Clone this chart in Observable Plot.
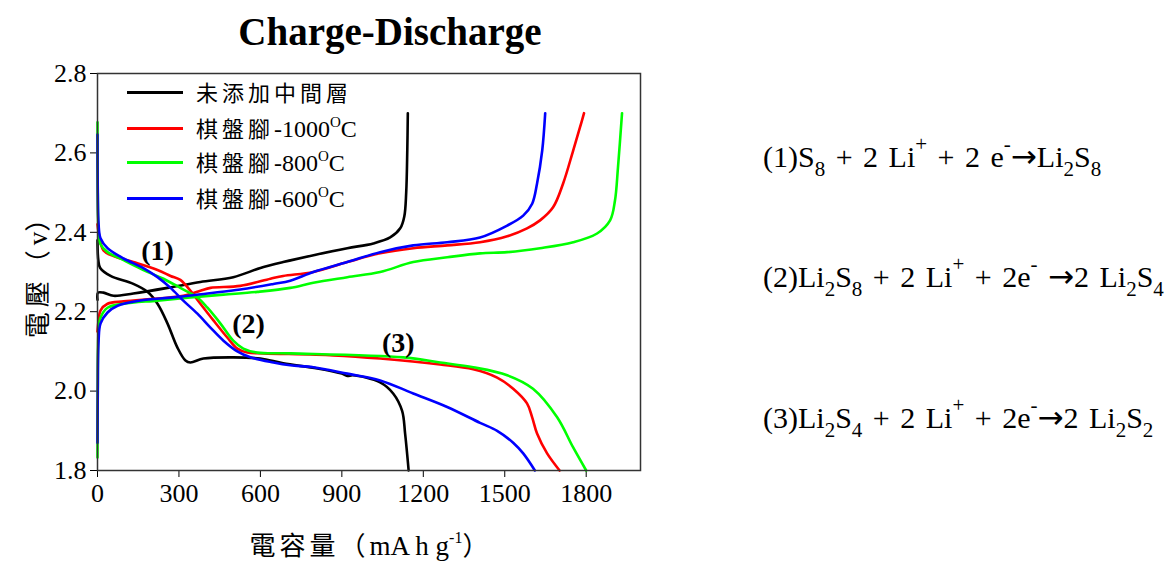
<!DOCTYPE html>
<html>
<head>
<meta charset="utf-8">
<script src="https://cdn.jsdelivr.net/npm/d3@7"></script>
<script src="https://cdn.jsdelivr.net/npm/@observablehq/plot@0.6"></script>
<style>
  html, body { margin: 0; padding: 0; background: #fff; }
  #wrap { position: relative; width: 1172px; height: 561px; overflow: hidden; font-family: "Liberation Serif", "Noto Sans CJK TC", serif; }
  #chart { position: absolute; left: 0; top: 0; }
  #title { position: absolute; left: 140px; width: 500px; top: 12px; text-align: center; font: bold 39px "Liberation Serif", serif; line-height: 1; color: #000; }
  .leg { position: absolute; left: 127px; height: 30px; display: flex; align-items: center; white-space: nowrap; }
  .leg .sw { width: 56px; height: 3px; margin-right: 13px; }
  .leg .txt { font-size: 24px; color: #000; line-height: 1; }
  .cjk { font-family: "Noto Sans CJK TC", sans-serif; font-size: 22px; letter-spacing: 4px; }
  .leg sup { font-size: 15px; vertical-align: 10px; line-height: 0; }
  .eq { position: absolute; left: 763px; font: 30px "Liberation Serif", serif; white-space: pre; line-height: 1; color: #000; word-spacing: 3px; }
  .eq sub { font-size: 21px; vertical-align: -9px; line-height: 0; }
  .eq sup { font-size: 21px; vertical-align: 16px; line-height: 0; }
  .eq .ar { font-family: "DejaVu Sans", sans-serif; font-size: 31px; }
</style>
</head>
<body>
<div id="wrap">
  <div id="chart"></div>
  <div id="title">Charge-Discharge</div>
  <div id="legend"></div>
  <div class="eq" style="top:141px">(1)S<sub>8</sub> + 2 Li<sup>+</sup> + 2 e<sup>-</sup><span class="ar">→</span>Li<sub>2</sub>S<sub>8</sub></div>
  <div class="eq" style="top:261px">(2)Li<sub>2</sub>S<sub>8</sub> + 2 Li<sup>+</sup> + 2e<sup>-</sup> <span class="ar">→</span>2 Li<sub>2</sub>S<sub>4</sub></div>
  <div class="eq" style="top:402px">(3)Li<sub>2</sub>S<sub>4</sub> + 2 Li<sup>+</sup> + 2e<sup>-</sup><span class="ar">→</span>2 Li<sub>2</sub>S<sub>2</sub></div>
</div>
<script>
// ---------- data (capacity mAh/g, voltage V) ----------
const seriesNames = ["未添加中間層", "棋盤腳-1000°C", "棋盤腳-800°C", "棋盤腳-600°C"];
const seriesColors = ["#000000", "#ff0000", "#00ff00", "#0000ff"];
const legendCjk = ["未添加中間層", "棋盤腳", "棋盤腳", "棋盤腳"];
const legendTemp = ["", "-1000", "-800", "-600"];

const xTicks = [0, 300, 600, 900, 1200, 1500, 1800];
const yTicks = [1.8, 2.0, 2.2, 2.4, 2.6, 2.8];

const blackDischarge = [[0,2.38],[3,2.33],[10,2.31],[48,2.29],[132,2.27],[184,2.25],[221,2.22],[258,2.17],[294,2.11],[324,2.077],[342,2.072],[390,2.082],[500,2.085],[600,2.082],[684,2.07],[810,2.057],[900,2.044],[920,2.038],[940,2.04],[1041,2.022],[1089,1.994],[1122,1.95],[1133,1.893],[1146,1.80]];
const blackCharge = [[0,2.23],[2,2.248],[22,2.248],[59,2.24],[132,2.246],[258,2.26],[379,2.275],[500,2.287],[600,2.31],[684,2.325],[800,2.343],[920,2.36],[1016,2.372],[1078,2.387],[1115,2.41],[1130,2.44],[1137,2.50],[1141,2.606],[1143,2.70]];
const redDischarge = [[0,2.42],[4,2.40],[22,2.354],[59,2.34],[132,2.325],[221,2.305],[269,2.29],[305,2.28],[342,2.253],[379,2.22],[427,2.178],[478,2.135],[515,2.107],[552,2.097],[611,2.095],[868,2.09],[1041,2.082],[1262,2.067],[1384,2.055],[1472,2.034],[1531,2.006],[1582,1.969],[1601,1.934],[1619,1.893],[1656,1.843],[1702,1.80]];
const redCharge = [[0,2.15],[4,2.178],[11,2.203],[37,2.22],[96,2.226],[221,2.233],[316,2.24],[379,2.253],[416,2.26],[526,2.265],[637,2.283],[684,2.29],[795,2.30],[920,2.325],[1041,2.347],[1163,2.36],[1288,2.367],[1409,2.375],[1509,2.39],[1582,2.41],[1630,2.43],[1678,2.463],[1715,2.523],[1752,2.606],[1777,2.664],[1792,2.70]];
const greenDischarge = [[0,2.677],[1,2.5],[4,2.405],[11,2.37],[37,2.35],[96,2.33],[169,2.305],[243,2.283],[305,2.26],[368,2.236],[405,2.21],[453,2.17],[500,2.127],[537,2.107],[589,2.097],[710,2.095],[1126,2.085],[1262,2.072],[1384,2.06],[1509,2.04],[1604,2.006],[1693,1.934],[1752,1.858],[1800,1.80]];
const greenCharge = [[0,1.833],[1,2.0],[4,2.152],[11,2.185],[37,2.21],[96,2.22],[221,2.228],[342,2.236],[464,2.243],[589,2.25],[710,2.26],[795,2.273],[920,2.287],[1041,2.30],[1163,2.325],[1288,2.337],[1409,2.347],[1509,2.35],[1630,2.36],[1752,2.375],[1840,2.397],[1888,2.43],[1906,2.48],[1917,2.563],[1932,2.70]];
const blueDischarge = [[0,2.646],[1,2.5],[4,2.42],[11,2.385],[37,2.36],[96,2.334],[169,2.31],[221,2.287],[269,2.26],[316,2.228],[368,2.195],[416,2.16],[464,2.127],[515,2.10],[563,2.085],[648,2.072],[710,2.065],[795,2.06],[920,2.044],[1041,2.027],[1163,1.994],[1288,1.96],[1409,1.92],[1472,1.90],[1531,1.87],[1568,1.843],[1611,1.80]];
const blueCharge = [[0,1.87],[1,2.0],[4,2.127],[11,2.17],[37,2.198],[74,2.215],[158,2.228],[280,2.236],[405,2.246],[526,2.256],[648,2.27],[710,2.278],[795,2.30],[920,2.325],[1041,2.35],[1163,2.367],[1288,2.375],[1409,2.387],[1509,2.417],[1568,2.442],[1601,2.472],[1619,2.523],[1638,2.606],[1649,2.70]];

const annotLabels = ["(1)", "(2)", "(3)"];
const annotCapacity = [221, 556, 1108];
const annotVoltage = [2.354, 2.17, 2.122];

// ---------- build table ----------
const curves = [
  [blackDischarge, blackCharge],
  [redDischarge, redCharge],
  [greenDischarge, greenCharge],
  [blueDischarge, blueCharge]
];
const rows = [];
curves.forEach((pair, i) => {
  pair.forEach((pts, j) => {
    pts.forEach(([c, v]) => rows.push({series: seriesNames[i], segment: i + "-" + j, capacity: c, voltage: v}));
  });
});
const annots = annotLabels.map((t, i) => ({label: t, capacity: annotCapacity[i], voltage: annotVoltage[i]}));

const chart = Plot.plot({
  width: 700,
  height: 561,
  marginTop: 73,
  marginBottom: 91,
  marginLeft: 97,
  marginRight: 60,
  style: {fontFamily: '"Liberation Serif", "Noto Sans CJK TC", serif', fontSize: "26px", color: "#000", background: "transparent", overflow: "visible"},
  x: {domain: [0, 2000], ticks: xTicks, tickFormat: d => String(d), tickSize: 7, tickPadding: 6, label: "電容量（mA h g-1）", labelAnchor: "center", labelArrow: "none", labelOffset: 84},
  y: {domain: [1.8, 2.8], ticks: yTicks, tickFormat: d => d.toFixed(1), tickSize: 7, tickPadding: 4, label: "電壓（v）", labelAnchor: "center", labelArrow: "none", labelOffset: 69},
  color: {domain: seriesNames, range: seriesColors},
  marks: [
    Plot.line(rows, {x: "capacity", y: "voltage", z: "segment", stroke: "series", strokeWidth: 2.6, strokeLinejoin: "round", curve: "catmull-rom"}),
    Plot.frame({stroke: "#333", strokeWidth: 1.5}),
    Plot.text(annots, {x: "capacity", y: "voltage", text: "label", fontWeight: "bold", fontSize: 28, fill: "#000", textAnchor: "middle"})
  ]
});
document.getElementById("chart").appendChild(chart);

// richer axis labels (CJK spacing + superscript)
const NS = "http://www.w3.org/2000/svg";
function richLabel(sel, parts) {
  const t = chart.querySelector(sel);
  if (!t) return;
  t.textContent = "";
  parts.forEach(p => {
    const s = document.createElementNS(NS, "tspan");
    s.textContent = p.text;
    Object.entries(p.attrs || {}).forEach(([k, v]) => s.setAttribute(k, v));
    t.appendChild(s);
  });
}
richLabel('g[aria-label="x-axis label"] text', [
  {text: "電容量（", attrs: {style: 'font-family:"Noto Sans CJK TC";font-size:26px;letter-spacing:4px'}},
  {text: "mA h g", attrs: {style: "font-size:27px"}},
  {text: "-1", attrs: {style: "font-size:16px", dy: "-12"}},
  {text: "）", attrs: {style: 'font-family:"Noto Sans CJK TC";font-size:26px', dy: "12"}}
]);
richLabel('g[aria-label="y-axis label"] text', [
  {text: "電壓（", attrs: {style: 'font-family:"Noto Sans CJK TC";font-size:26px;letter-spacing:5px'}},
  {text: "v", attrs: {style: "font-size:27px"}},
  {text: "）", attrs: {style: 'font-family:"Noto Sans CJK TC";font-size:26px'}}
]);

// legend
const legRowTops = [77, 113, 147, 183];
const legend = document.getElementById("legend");
seriesNames.forEach((name, i) => {
  const row = document.createElement("div");
  row.className = "leg";
  row.style.top = legRowTops[i] + "px";
  const sw = document.createElement("div");
  sw.className = "sw";
  sw.style.background = seriesColors[i];
  const txt = document.createElement("span");
  txt.className = "txt";
  txt.innerHTML = '<span class="cjk">' + legendCjk[i] + '</span>' +
    (legendTemp[i] ? legendTemp[i] + '<sup>O</sup>C' : '');
  row.appendChild(sw);
  row.appendChild(txt);
  legend.appendChild(row);
});
</script>
</body>
</html>
